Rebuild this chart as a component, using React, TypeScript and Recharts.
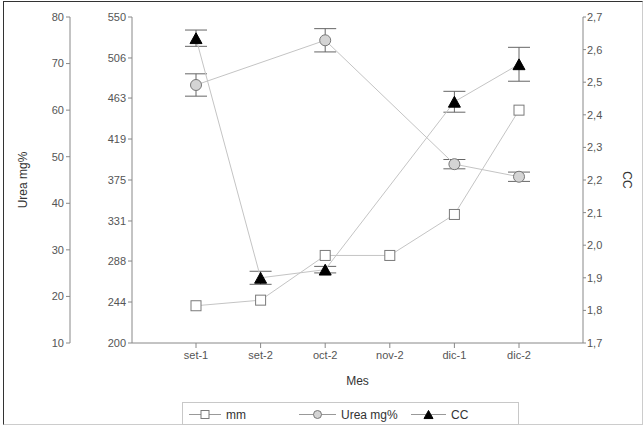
import React from 'react';
import { LineChart, Line, XAxis, YAxis, ErrorBar, Legend } from 'recharts';

const meses = ['set-1', 'set-2', 'oct-2', 'nov-2', 'dic-1', 'dic-2'];
const mm = [240, 246, 294, 294, 338, 450];
const urea = [65.4, null, 75.0, null, 48.4, 45.7];
const ureaErr = [2.4, null, 2.5, null, 1.0, 1.0];
const cc = [2.635, 1.9, 1.925, null, 2.44, 2.555];
const ccErr = [0.025, 0.02, 0.01, null, 0.032, 0.052];

const mmTicks = [200, 244, 288, 331, 375, 419, 463, 506, 550];
const ureaTicks = [10, 20, 30, 40, 50, 60, 70, 80];
const ccTicks = [1.7, 1.8, 1.9, 2.0, 2.1, 2.2, 2.3, 2.4, 2.5, 2.6, 2.7];

const data = meses.map((mes, i) => ({
  mes,
  mm: mm[i],
  urea: urea[i],
  ureaErr: ureaErr[i],
  cc: cc[i],
  ccErr: ccErr[i],
}));

const FONT = '"Liberation Sans", Arial, sans-serif';
const tickStyle = { fontSize: 11, fill: '#555', fontFamily: FONT };
const LINE = '#c4c4c4';
const AXIS = '#888';

function Square({ cx, cy, s = 10 }: any) {
  return <rect x={cx - s / 2} y={cy - s / 2} width={s} height={s} fill="#fff" stroke="#7a7a7a" strokeWidth={1} />;
}
function Circle({ cx, cy, r = 5.5 }: any) {
  return <circle cx={cx} cy={cy} r={r} fill="#d4d4d4" stroke="#777" strokeWidth={1} />;
}
function Triangle({ cx, cy, s = 12 }: any) {
  const h = s * 0.9;
  return (
    <path
      d={`M${cx},${cy - h / 2} L${cx + s / 2},${cy + h / 2} L${cx - s / 2},${cy + h / 2} Z`}
      fill="#000"
      stroke="#000"
    />
  );
}

const makeDot = (Shape: any) => (props: any) => {
  const { cx, cy, index, value } = props;
  if (value == null || cy == null || isNaN(cy)) return <g key={`e-${index}`} />;
  return <Shape key={`d-${index}`} cx={cx} cy={cy} />;
};

function LegendBox() {
  const items = [
    { x0: 6, x1: 38, label: 'mm', Shape: Square, s: 8 },
    { x0: 116, x1: 153, label: 'Urea mg%', Shape: Circle, s: 4 },
    { x0: 228, x1: 263, label: 'CC', Shape: Triangle, s: 9 },
  ];
  return (
    <svg width={337} height={23} style={{ display: 'block', border: '1px solid #c8c8c8', boxSizing: 'border-box' }}>
      {items.map(({ x0, x1, label, Shape, s }) => {
        const m = (x0 + x1) / 2;
        return (
          <g key={label}>
            <line x1={x0} x2={x1} y1={11.5} y2={11.5} stroke="#999" />
            {Shape === Circle ? <Circle cx={m} cy={11.5} r={s} /> : Shape === Square ? <Square cx={m} cy={11.5} s={s} /> : <Triangle cx={m} cy={11.5} s={s} />}
            <text x={x1 + 5} y={15.5} fontSize={12} fill="#333" fontFamily={FONT}>
              {label}
            </text>
          </g>
        );
      })}
    </svg>
  );
}

export default function App() {
  return (
    <div style={{ position: 'absolute', left: 0, top: 0, width: 644, height: 428, background: '#fff' }}>
      <div
        style={{
          position: 'absolute',
          left: 3,
          top: 1,
          width: 638,
          height: 422,
          borderTop: '1.5px solid #333',
          borderLeft: '1.5px solid #333',
          borderRight: '1px solid #ccc',
          borderBottom: '1px solid #ccc',
        }}
      />
      <LineChart
        width={644}
        height={428}
        data={data}
        margin={{ top: 17, right: 11, left: 10, bottom: 35 }}
        style={{ position: 'absolute', left: 0, top: 0, fontFamily: FONT }}
      >
        <XAxis
          dataKey="mes"
          height={50}
          padding={{ left: 64, right: 64 }}
          tick={tickStyle}
          tickSize={5}
          tickMargin={3}
          stroke={AXIS}
          label={{ value: 'Mes', position: 'insideBottom', offset: 8, fontSize: 12, fill: '#333', fontFamily: FONT }}
        />
        <YAxis
          yAxisId="mm"
          orientation="left"
          width={62}
          domain={[200, 550]}
          ticks={mmTicks}
          interval={0}
          tick={tickStyle}
          tickSize={4}
          tickMargin={2}
          stroke={AXIS}
        />
        <YAxis
          yAxisId="urea"
          orientation="left"
          width={60}
          domain={[10, 80]}
          ticks={ureaTicks}
          interval={0}
          tick={tickStyle}
          tickSize={4}
          tickMargin={2}
          stroke={AXIS}
          label={{
            value: 'Urea mg%',
            angle: -90,
            position: 'insideLeft',
            offset: 13,
            fontSize: 12,
            fill: '#333',
            fontFamily: FONT,
            style: { textAnchor: 'middle' },
          }}
        />
        <YAxis
          yAxisId="cc"
          orientation="right"
          width={50}
          domain={[1.7, 2.7]}
          ticks={ccTicks}
          interval={0}
          tick={tickStyle}
          tickSize={3}
          tickMargin={1}
          stroke={AXIS}
          tickFormatter={(v: number) => v.toFixed(1).replace('.', ',')}
          label={{
            value: 'CC',
            angle: 90,
            position: 'insideRight',
            offset: 6,
            fontSize: 12,
            fill: '#333',
            fontFamily: FONT,
            style: { textAnchor: 'middle' },
          }}
        />
        <Line
          yAxisId="mm"
          dataKey="mm"
          stroke={LINE}
          strokeWidth={1}
          dot={makeDot(Square)}
          activeDot={false}
          isAnimationActive={false}
        />
        <Line
          yAxisId="urea"
          dataKey="urea"
          stroke={LINE}
          strokeWidth={1}
          connectNulls
          dot={makeDot(Circle)}
          activeDot={false}
          isAnimationActive={false}
        >
          <ErrorBar dataKey="ureaErr" width={11} stroke="#666" strokeWidth={1} />
        </Line>
        <Line
          yAxisId="cc"
          dataKey="cc"
          stroke={LINE}
          strokeWidth={1}
          connectNulls
          dot={makeDot(Triangle)}
          activeDot={false}
          isAnimationActive={false}
        >
          <ErrorBar dataKey="ccErr" width={11} stroke="#666" strokeWidth={1} />
        </Line>
        <Legend
          layout="vertical"
          align="center"
          verticalAlign="middle"
          content={() => <LegendBox />}
          wrapperStyle={{ position: 'absolute', left: 182, top: 402, width: 337, height: 23 }}
        />
      </LineChart>
    </div>
  );
}
